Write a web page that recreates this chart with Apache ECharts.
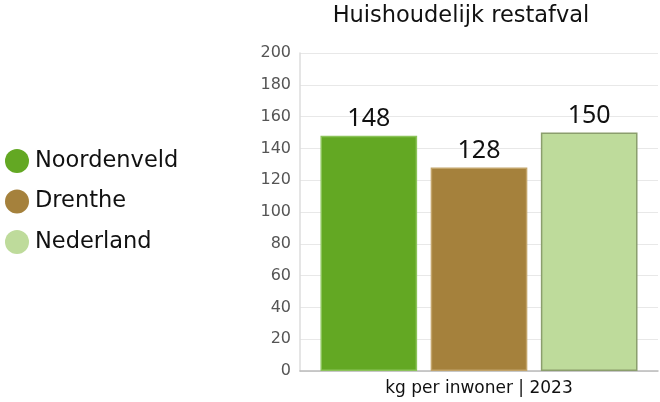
<!DOCTYPE html>
<html><head><meta charset="utf-8">
<script src="https://cdn.jsdelivr.net/npm/echarts@6/dist/echarts.min.js"></script>
<style>html,body{margin:0;padding:0;background:#fff}#c{width:660px;height:402px}</style>
</head><body><div id="c"></div>
<script>
const title = 'Huishoudelijk restafval';
const categories = ['kg per inwoner | 2023'];
const seriesNames = ['Noordenveld', 'Drenthe', 'Nederland'];
const values = [148, 128, 150];
const colors = ['#63a823', '#a5813c', '#bedb9b'];
const borders = ['#8cc35a', '#c2a46a', '#8b9e6d'];
const yTicks = { min: 0, max: 200, interval: 20 };

const font = 'DejaVu Sans';
const chart = echarts.init(document.getElementById('c'));
chart.setOption({
  animation: false,
  title: { text: title, left: 456, top: 0, textAlign: 'center',
    textStyle: { fontFamily: font, fontWeight: 'normal', fontSize: 22.5, color: '#111' } },
  legend: { orient: 'vertical', left: 0, top: 144, icon: 'circle',
    itemWidth: 24, itemHeight: 24, itemGap: 16.5, data: seriesNames,
    itemStyle: { borderWidth: 0 },
    textStyle: { fontFamily: font, fontSize: 22.5, lineHeight: 24, color: '#111', padding: [0, 0, 0, 1] } },
  grid: { left: 300, right: 2, top: 53, bottom: 31, containLabel: false },
  xAxis: { type: 'category', data: categories,
    axisLine: { lineStyle: { color: '#bbb', width: 1.5 } }, axisTick: { show: false },
    axisLabel: { fontFamily: font, fontSize: 17, color: '#111', margin: 9 } },
  yAxis: { type: 'value', min: yTicks.min, max: yTicks.max, interval: yTicks.interval,
    axisLine: { show: true, lineStyle: { color: '#ddd', width: 1.5 } },
    splitLine: { lineStyle: { color: '#e8e8e8', width: 1.2 } },
    axisLabel: { fontFamily: font, fontSize: 16, color: '#555', margin: 9 } },
  series: seriesNames.map((n, i) => ({
    name: n, type: 'bar', data: [values[i]], barWidth: '27%', barGap: '14%',
    itemStyle: { color: colors[i], borderColor: borders[i], borderWidth: 1.5 },
    label: { show: true, position: 'top', distance: 4, fontFamily: 'Noto Sans', fontSize: 25, color: '#111' }
  }))
});
</script></body></html>
